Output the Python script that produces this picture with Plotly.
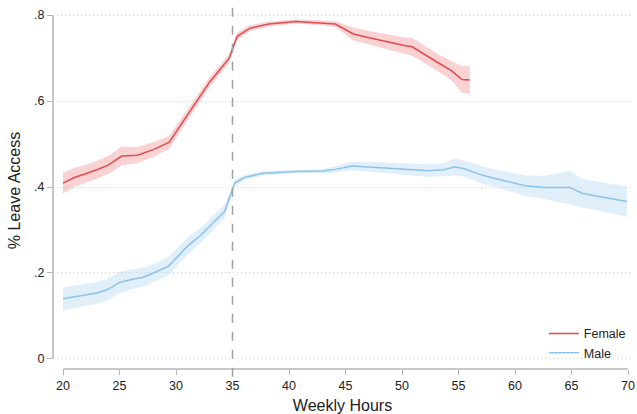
import plotly.graph_objects as go

# ---- data ----
female_hours = [20, 21, 22, 23, 24, 25.2, 26.6, 28.1, 29.4, 30.9, 31.9, 33.0, 34.7, 35.4,
                36.5, 38.2, 40.6, 42.7, 44.1, 45.7, 47.1, 50.2, 50.9, 53.2, 54.4, 55.3, 56.0]
female_mean = [0.409, 0.422, 0.431, 0.440, 0.451, 0.472, 0.474, 0.488, 0.504, 0.563, 0.602,
               0.645, 0.699, 0.750, 0.769, 0.779, 0.785, 0.782, 0.779, 0.756, 0.747, 0.729,
               0.726, 0.689, 0.670, 0.650, 0.649]
female_hw = [0.024, 0.022, 0.021, 0.021, 0.021, 0.022, 0.019, 0.017, 0.015, 0.013, 0.012,
             0.011, 0.010, 0.008, 0.007, 0.006, 0.005, 0.005, 0.007, 0.015, 0.016, 0.019,
             0.021, 0.020, 0.023, 0.031, 0.033]

male_hours = [20, 21.9, 23.1, 24, 25, 26.06, 27.1, 28.1, 29.3, 31.05, 32.2, 33.1, 34.3, 35.2,
              36.05, 37.7, 40.6, 43.0, 44.1, 45.6, 47.4, 49.4, 52.4, 53.7, 54.7, 55.6, 56.8,
              58.2, 60.0, 60.9, 62.65, 64.85, 66.0, 67.35, 69.9]
male_mean = [0.140, 0.149, 0.154, 0.162, 0.178, 0.185, 0.190, 0.201, 0.215, 0.263, 0.288,
             0.312, 0.343, 0.409, 0.422, 0.432, 0.436, 0.437, 0.441, 0.449, 0.446, 0.443,
             0.438, 0.440, 0.447, 0.442, 0.430, 0.420, 0.409, 0.403, 0.399, 0.399, 0.385,
             0.379, 0.366]
male_hw = [0.027, 0.026, 0.025, 0.025, 0.025, 0.023, 0.022, 0.021, 0.021, 0.020, 0.018,
           0.017, 0.015, 0.008, 0.006, 0.005, 0.004, 0.005, 0.007, 0.010, 0.012, 0.013,
           0.015, 0.015, 0.020, 0.019, 0.020, 0.021, 0.023, 0.024, 0.027, 0.039, 0.033,
           0.033, 0.036]

x_ticks = [20, 25, 30, 35, 40, 45, 50, 55, 60, 65, 70]
y_ticks = [0, 0.2, 0.4, 0.6, 0.8]
y_labels = ["0", ".2", ".4", ".6", ".8"]
cutoff = 35

F_LINE = "#e5484d"
F_BAND = "rgba(229,72,77,0.24)"
M_LINE = "#8cc3e8"
M_BAND = "rgba(140,195,232,0.27)"
AXIS = "#b4b4b4"

fig = go.Figure()


def band(xs, ys, hw, color):
    up = [y + h for y, h in zip(ys, hw)]
    lo = [y - h for y, h in zip(ys, hw)]
    return go.Scatter(x=list(xs) + list(xs)[::-1], y=up + lo[::-1], fill="toself",
                      fillcolor=color, line=dict(width=0), mode="lines",
                      hoverinfo="skip", showlegend=False)


fig.add_trace(band(female_hours, female_mean, female_hw, F_BAND))
fig.add_trace(band(male_hours, male_mean, male_hw, M_BAND))
fig.add_trace(go.Scatter(x=female_hours, y=female_mean, mode="lines", name="Female",
                         line=dict(color=F_LINE, width=1.5)))
fig.add_trace(go.Scatter(x=male_hours, y=male_mean, mode="lines", name="Male",
                         line=dict(color=M_LINE, width=1.5)))

# axis lines spanning the data range only (Stata style)
fig.add_shape(type="line", xref="x", yref="paper", x0=20, x1=70, y0=0, y1=0,
              line=dict(color=AXIS, width=1.5))
fig.add_shape(type="line", xref="paper", yref="y", x0=0, x1=0, y0=0, y1=0.8,
              line=dict(color=AXIS, width=1.5))
# dashed cutoff line
fig.add_shape(type="line", xref="x", yref="paper", x0=cutoff, x1=cutoff, y0=-0.022, y1=1.02,
              line=dict(color="#a0a0a0", width=1.5, dash="dash"))

fig.update_layout(
    width=637, height=414,
    margin=dict(l=53, r=5, t=12, b=45),
    paper_bgcolor="white", plot_bgcolor="white",
    font=dict(family="Liberation Sans, Arial, sans-serif", size=12.5, color="#222222"),
    showlegend=True,
    legend=dict(x=0.998, xanchor="right", y=0.003, yanchor="bottom",
                bgcolor="rgba(0,0,0,0)", font=dict(size=12.5), tracegroupgap=0),
    xaxis=dict(range=[19.115, 70.354], tickvals=x_ticks, showgrid=False, zeroline=False,
               showline=False, ticks="outside", ticklen=5, tickcolor=AXIS, tickwidth=1.2,
               ticklabeloverflow="allow", automargin=False,
               title=dict(text="Weekly Hours", font=dict(size=16), standoff=7)),
    yaxis=dict(range=[-0.0233, 0.807], tickvals=y_ticks, ticktext=y_labels,
               showgrid=True, gridcolor="#d0d0d0", griddash="1px,3px", gridwidth=1,
               zeroline=False, showline=False, ticks="outside", ticklen=5,
               tickcolor=AXIS, tickwidth=1.2, automargin=False,
               title=dict(text="% Leave Access", font=dict(size=16), standoff=9)),
)

fig.write_html("out.html")
